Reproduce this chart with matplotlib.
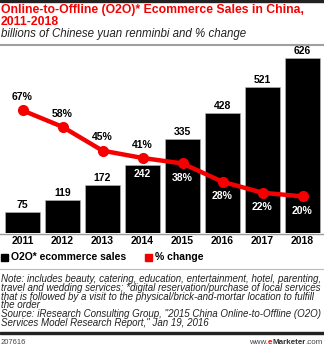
import matplotlib
matplotlib.use("Agg")
import matplotlib.pyplot as plt
from matplotlib.patches import Rectangle
from matplotlib.lines import Line2D

years = ["2011", "2012", "2013", "2014", "2015", "2016", "2017", "2018"]
sales = [75, 119, 172, 242, 335, 428, 521, 626]
sales_labels_inside = [False, False, False, True, False, False, False, False]
pct_change = [67, 58, 45, 41, 38, 28, 22, 20]
pct_labels_inside = [False, False, False, False, True, True, True, True]

W, H = 324, 348
fig = plt.figure(figsize=(W / 100, H / 100), dpi=100)
RED = "#f40000"
BOLD = "Liberation Sans"
LFS = 7.5


def fy(y):
    return 1 - y / H


def fx(x):
    return x / W


# axes: baseline at y=233 px, top at y=50 px
ax = fig.add_axes([0, fy(233), 1, (233 - 50) / H])
ax.set_xlim(-22.5 / 40, (W - 22.5) / 40)
ax.set_ylim(0, 654)
ax.axis("off")
xs = list(range(len(years)))
ax.bar(xs, sales, width=0.875, color="black", edgecolor="#bbbbbb", linewidth=0.4, zorder=2)
for x, v, inside in zip(xs, sales, sales_labels_inside):
    if inside:
        ax.annotate(str(v), (x, v), xytext=(0, -2.5), textcoords="offset points",
                    ha="center", va="top", fontsize=LFS, fontweight="bold",
                    color="white", family=BOLD, zorder=3)
    else:
        ax.annotate(str(v), (x, v), xytext=(0, 1.5), textcoords="offset points",
                    ha="center", va="bottom", fontsize=LFS, fontweight="bold",
                    color="black", family=BOLD)

ax2 = ax.twinx()
ax2.set_position(ax.get_position())
ax2.set_ylim(0, 100)
ax2.axis("off")
ax2.plot(xs, pct_change, color=RED, lw=3.2, marker="o", ms=7, zorder=5)
for x, v, inside in zip(xs, pct_change, pct_labels_inside):
    if inside:
        ax2.annotate(f"{v}%", (x, v), xytext=(0, -7), textcoords="offset points",
                     ha="center", va="top", fontsize=LFS, fontweight="bold", color="white",
                     family=BOLD, zorder=6)
    else:
        ax2.annotate(f"{v}%", (x, v), xytext=(0, 6), textcoords="offset points",
                     ha="center", va="bottom", fontsize=LFS, fontweight="bold", color="black",
                     family=BOLD, zorder=6)

# year labels
for i, yr in enumerate(years):
    fig.text(fx(22.5 + 40 * i), fy(241), yr, ha="center", va="center", fontsize=LFS,
             fontweight="bold", family=BOLD)

# baseline gray line
fig.add_artist(Line2D([0, 1], [fy(233.5), fy(233.5)], color="#999999", lw=1.0))

# top bar and lines
fig.add_artist(Rectangle((0, fy(2)), 1, 2 / H, color="#222222", transform=fig.transFigure))
fig.add_artist(Line2D([0, 1], [fy(45), fy(45)], color="#a0a0a0", lw=1.5))

# title
fig.text(fx(1), fy(10.5), "Online-to-Offline (O2O)* Ecommerce Sales in China,", ha="left",
         va="center", fontsize=8.8, fontweight="bold", color=RED, family=BOLD)
fig.text(fx(1), fy(22), "2011-2018", ha="left", va="center", fontsize=8.8,
         fontweight="bold", color=RED, family=BOLD)
fig.text(fx(1), fy(34), "billions of Chinese yuan renminbi and % change", ha="left",
         va="center", fontsize=8.3, style="italic", color="#222222", family="Liberation Sans")

# legend
fig.add_artist(Rectangle((fx(1), fy(261)), 7 / W, 7 / H, color="black", transform=fig.transFigure))
fig.text(fx(11), fy(257.5), "O2O* ecommerce sales", ha="left", va="center", fontsize=LFS,
         fontweight="bold", family=BOLD)
fig.add_artist(Rectangle((fx(145), fy(261)), 7 / W, 7 / H, color=RED, transform=fig.transFigure))
fig.text(fx(155), fy(257.5), "% change", ha="left", va="center", fontsize=LFS,
         fontweight="bold", family=BOLD)

fig.add_artist(Line2D([0, 1], [fy(269), fy(269)], color="#bbbbbb", lw=0.8))

note_lines = [
    "Note: includes beauty, catering, education, entertainment, hotel, parenting,",
    "travel and wedding services; *digital reservation/purchase of local services",
    "that is followed by a visit to the physical/brick-and-mortar location to fulfill",
    "the order",
    "Source: iResearch Consulting Group, \"2015 China Online-to-Offline (O2O)",
    "Services Model Research Report,\" Jan 19, 2016",
]
for k, line in enumerate(note_lines):
    fig.text(fx(1), fy(279 + 8.8 * k), line, ha="left", va="center", fontsize=7.0,
             style="italic", color="#222222", family="Liberation Sans")

fig.add_artist(Rectangle((0, fy(334)), 1, 2 / H, color="#222222", transform=fig.transFigure))
fig.text(fx(1), fy(342), "207616", ha="left", va="center", fontsize=5.5, color="#444444",
         family="Liberation Sans")

# footer brand, right aligned
renderer = fig.canvas.get_renderer()
parts = [(".com", "normal", "#444444"), ("Marketer", "bold", "#333333"),
         ("e", "bold", RED), ("www.", "normal", "#444444")]
xr = fx(323)
for txt, wt, col in parts:
    t = fig.text(xr, fy(342), txt, ha="right", va="center", fontsize=5.8, fontweight=wt,
                 color=col, family="Liberation Sans")
    bb = t.get_window_extent(renderer)
    xr -= bb.width / (W)

fig.savefig("out.png", dpi=100)
